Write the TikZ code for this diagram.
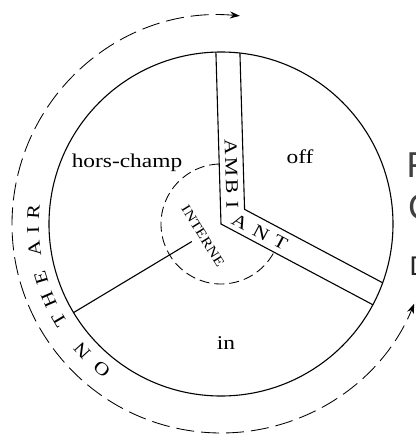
\documentclass[tikz,border=0pt]{standalone}
\usepackage{fontspec}
\setmainfont{Liberation Serif}
\newfontfamily\labfont{Liberation Serif}[FakeStretch=1.2]
\newfontfamily\sidefont{Liberation Sans}
\usetikzlibrary{arrows.meta,calc}
\begin{document}
\begin{tikzpicture}[x=1pt,y=1pt,
  wall/.style={line width=1.1pt, black},
  ringdash/.style={line width=0.85pt, dash pattern=on 18pt off 7pt},
  innerdash/.style={line width=0.85pt, dash pattern=on 10pt off 5pt},
  lab/.style={font=\labfont\fontsize{19.5}{22}\selectfont, inner sep=0pt, anchor=base},
  ringlet/.style={font=\labfont\fontsize{18}{20}\selectfont, inner sep=0pt},
  intlet/.style={font=\labfont\fontsize{13.5}{15}\selectfont, inner sep=0pt},
  edgetext/.style={font=\sidefont, inner sep=0pt, anchor=base west}]
\useasboundingbox (-221,-213) rectangle (195,224);
\fill[white] (-221,-213) rectangle (195,224);
\coordinate (O) at (0,0);
% main disc
\draw[wall] (O) circle[radius=172];
% band points
\coordinate (BL) at (91.7:172);
\coordinate (BR) at (83.68:172);
\coordinate (AL) at (-28:172);
\coordinate (AU) at (-19.98:172);
\coordinate (R0) at (1.7:24);
\coordinate (U0) at (62:24);
\coordinate (K) at (intersection of R0--BR and U0--AU);
\coordinate (S0) at (211:34);
\coordinate (S1) at (211:172);
\draw[wall] (BL) -- (O) -- (AL);
\draw[wall] (BR) -- (K) -- (AU);
\draw[wall] (S0) -- (S1);
% inner dashed arc
\draw[innerdash] (91.7:60) arc[start angle=91.7, end angle=332, radius=60];
% outer dashed arc with arrows
\draw[ringdash, {Stealth[length=10pt,width=7pt]}-{Stealth[length=10pt,width=7pt]}]
  (84.8:209) arc[start angle=84.8, end angle=337.6, radius=209];
% region labels
\node[lab] (hc) at (-94,57) {hors-champ};
\node[lab] (off) at (79,61) {off};
\node[lab] (in) at (5,-125) {in};
% ON THE AIR
\foreach \ch/\ang [count=\i] in {O/230.7, N/222.4, T/210.6, H/203.6, E/196.8, A/187.4, I/181.8, R/176.3}{
  \node[ringlet, rotate=\ang-90] (air\i) at (\ang:188) {\ch};
}
% AMBIANT
\node[ringlet, rotate=-88.3] (am1) at (9.7,77) {A};
\node[ringlet, rotate=-88.3] (am2) at (10.3,57) {M};
\node[ringlet, rotate=-88.3] (am3) at (10.9,37) {B};
\node[ringlet, rotate=-88.3] (am4) at (11.4,19) {I};
\node[ringlet, rotate=-28] (am5) at (19,2) {A};
\node[ringlet, rotate=-28] (am6) at (40,-8.5) {N};
\node[ringlet, rotate=-28] (am7) at (59.5,-18) {T};
% INTERNE
\node[intlet, rotate=-58] (int) at (-18,-12) {INTERNE};
% cut-off text at right edge
\begin{scope}
\clip (-221,-213) rectangle (195,224);
\node[edgetext, text=black!75, font=\sidefont\fontsize{36}{40}\selectfont] (eF) at (185.5,47) {F};
\node[edgetext, text=black!75, font=\sidefont\fontsize{36}{40}\selectfont] (eC) at (187,4.5) {C};
\node[edgetext, text=black!85, font=\sidefont\fontsize{27}{30}\selectfont] (eD) at (188.5,-51) {D};
\end{scope}
\end{tikzpicture}
\end{document}
